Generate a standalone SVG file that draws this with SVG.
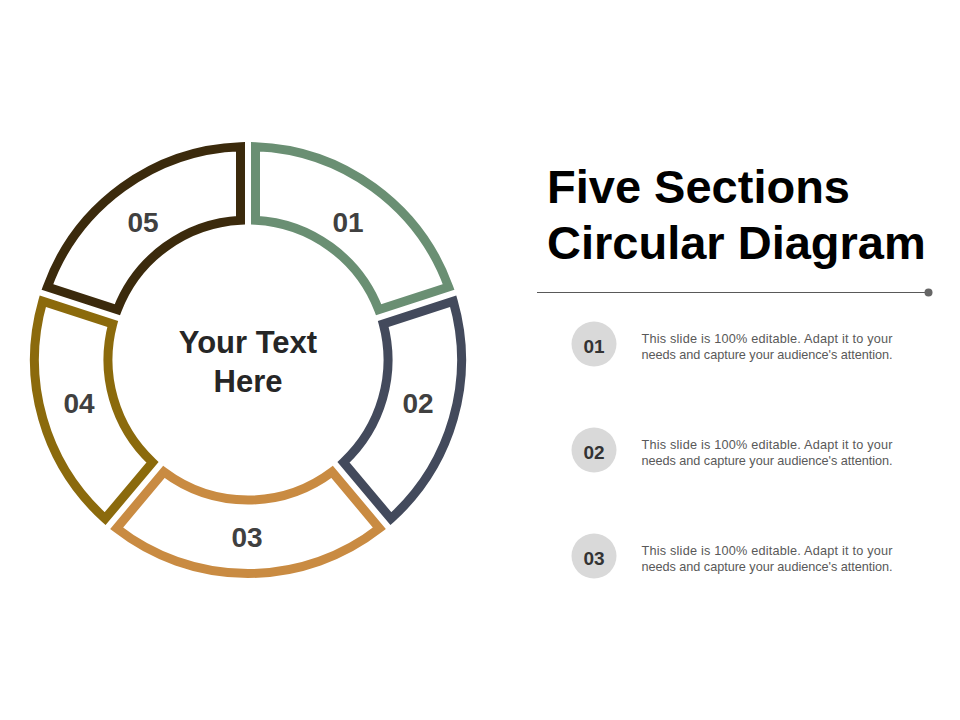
<svg xmlns="http://www.w3.org/2000/svg" width="960" height="720" viewBox="0 0 960 720">
<style>
.seg{fill:#FFFFFF;stroke-width:9;stroke-linejoin:miter}
.num{font-family:"Liberation Sans",Arial,sans-serif;font-weight:bold;font-size:28px;fill:#404040;text-anchor:middle}
.center{font-family:"Liberation Sans",Arial,sans-serif;font-weight:bold;font-size:31px;fill:#262626;text-anchor:middle}
.title{font-family:"Liberation Sans",Arial,sans-serif;font-weight:bold;font-size:47px;fill:#000000}
.badge{fill:#D9D9D9}
.bnum{font-family:"Liberation Sans",Arial,sans-serif;font-weight:bold;font-size:19px;fill:#333333;text-anchor:middle}
.body{font-family:"Liberation Sans",Arial,sans-serif;font-size:12.7px;fill:#595959}
</style>
<rect width="960" height="720" fill="#FFFFFF"/>
<g id="seg01"><path class="seg" stroke="#6A8F73" d="M 255.5 146.63 A 213.5 213.5 0 0 1 448.6 286.93 L 378.64 309.67 A 140 140 0 0 0 255.5 220.2 Z"/><text class="num" x="348" y="232">01</text></g>
<g id="seg02"><path class="seg" stroke="#434A5C" d="M 453.24 301.16 A 213.5 213.5 0 0 1 390.88 518.65 L 343.6 462.28 A 140 140 0 0 0 383.27 323.94 Z"/><text class="num" x="418" y="413">02</text></g>
<g id="seg03"><path class="seg" stroke="#C98B42" d="M 379.4 528.27 A 213.5 213.5 0 0 1 116.6 528.27 L 163.88 471.91 A 140 140 0 0 0 332.12 471.91 Z"/><text class="num" x="247" y="547">03</text></g>
<g id="seg04"><path class="seg" stroke="#8B6A0C" d="M 105.12 518.65 A 213.5 213.5 0 0 1 42.76 301.16 L 112.73 323.94 A 140 140 0 0 0 152.4 462.28 Z"/><text class="num" x="79" y="413">04</text></g>
<g id="seg05"><path class="seg" stroke="#3B2A0C" d="M 47.4 286.93 A 213.5 213.5 0 0 1 240.5 146.63 L 240.5 220.2 A 140 140 0 0 0 117.36 309.67 Z"/><text class="num" x="143" y="232">05</text></g>
<g id="center-label"><text class="center" x="248" y="353">Your Text</text><text class="center" x="248" y="392">Here</text></g>
<g id="title"><text class="title" x="547" y="203">Five Sections</text><text class="title" x="547" y="259">Circular Diagram</text></g>
<g id="divider"><line x1="537" y1="292.5" x2="928" y2="292.5" stroke="#595959" stroke-width="1.2"/><circle cx="928.5" cy="292.5" r="4" fill="#666666"/></g>
<g id="item01"><circle class="badge" cx="594" cy="344" r="22.5"/><text class="bnum" x="594" y="352.5">01</text><text class="body" x="641.5" y="343" textLength="251" lengthAdjust="spacing">This slide is 100% editable. Adapt it to your</text><text class="body" x="641.5" y="359" textLength="251" lengthAdjust="spacing">needs and capture your audience's attention.</text></g>
<g id="item02"><circle class="badge" cx="594" cy="450" r="22.5"/><text class="bnum" x="594" y="458.5">02</text><text class="body" x="641.5" y="449" textLength="251" lengthAdjust="spacing">This slide is 100% editable. Adapt it to your</text><text class="body" x="641.5" y="465" textLength="251" lengthAdjust="spacing">needs and capture your audience's attention.</text></g>
<g id="item03"><circle class="badge" cx="594" cy="556" r="22.5"/><text class="bnum" x="594" y="564.5">03</text><text class="body" x="641.5" y="555" textLength="251" lengthAdjust="spacing">This slide is 100% editable. Adapt it to your</text><text class="body" x="641.5" y="571" textLength="251" lengthAdjust="spacing">needs and capture your audience's attention.</text></g>
</svg>
